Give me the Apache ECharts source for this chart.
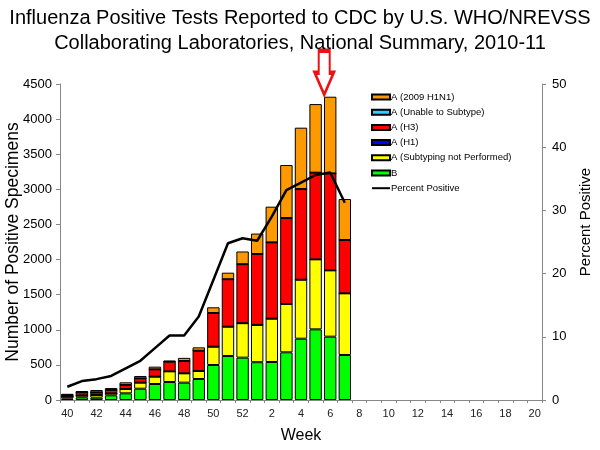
<!DOCTYPE html>
<html>
<head>
<meta charset="utf-8">
<script src="https://cdn.jsdelivr.net/npm/echarts@6/dist/echarts.min.js"></script>
<style>
html,body{margin:0;padding:0;background:#fff;}
#chart{width:600px;height:450px;}
</style>
</head>
<body>
<div id="chart"></div>
<script>
var weeks = ['40','41','42','43','44','45','46','47','48','49','50','51','52','1','2','3','4','5','6','7','8','9','10','11','12','13','14','15','16','17','18','19','20'];
var seriesB =        [20, 38, 33, 66, 95, 161, 228, 256, 247, 299, 498, 626, 603, 538, 541, 679, 873, 1006, 902, 641];
var seriesNotSub =   [27, 28, 38, 29, 62, 86, 104, 152, 133, 114, 261, 418, 491, 532, 617, 688, 840, 997, 944, 878];
var seriesH1 =       [0, 0, 0, 0, 0, 0, 0, 0, 0, 0, 0, 0, 0, 0, 0, 0, 0, 0, 0, 0];
var seriesH3 =       [23, 43, 38, 47, 57, 61, 105, 138, 175, 289, 480, 676, 840, 1009, 1087, 1224, 1291, 1234, 1381, 759];
var seriesUnable =   [0, 0, 0, 0, 0, 0, 0, 0, 0, 0, 0, 0, 0, 0, 0, 0, 0, 0, 0, 0];
var seriesH1N1 =     [18, 19, 33, 29, 38, 34, 38, 14, 45, 48, 81, 93, 181, 291, 508, 755, 874, 977, 1092, 584];
var percentPositive = [2.1, 3.0, 3.3, 3.8, 5.0, 6.2, 8.2, 10.2, 10.2, 13.2, 19.0, 24.8, 25.6, 25.2, 29.0, 33.2, 34.4, 35.6, 36.0, 31.2];
var leftTicks = {min: 0, max: 4500, interval: 500};
var rightTicks = {min: 0, max: 50, interval: 10};

var FONT = 'Liberation Sans, Arial, sans-serif';
var totals = seriesB.map(function(v, i){
  return v + seriesNotSub[i] + seriesH1[i] + seriesH3[i] + seriesUnable[i] + seriesH1N1[i];
});
var peak = 0;
totals.forEach(function(v, i){ if (v > totals[peak]) peak = i; });

function barSeries(name, data, color, extra){
  var s = {
    name: name, type: 'bar', stack: 'total', data: data,
    barCategoryGap: '15%',
    itemStyle: {color: color, borderColor: '#000', borderWidth: 1},
    emphasis: {disabled: true}
  };
  if (extra) for (var k in extra) s[k] = extra[k];
  return s;
}

var chart = echarts.init(document.getElementById('chart'), null, {renderer: 'canvas'});
chart.setOption({
  animation: false,
  textStyle: {fontFamily: FONT},
  title: {
    text: 'Influenza Positive Tests Reported to CDC by U.S. WHO/NREVSS\nCollaborating Laboratories, National Summary, 2010-11',
    left: 'center', top: 1,
    textStyle: {fontFamily: FONT, fontSize: 20, fontWeight: 'normal', color: '#000', lineHeight: 25}
  },
  legend: {
    orient: 'vertical', left: 366, top: 87,
    itemWidth: 18, itemHeight: 5, itemGap: 5.2,
    textStyle: {fontFamily: FONT, fontSize: 9.5, color: '#000', padding: [0, 0, 0, -4]},
    data: [
      {name: 'A (2009 H1N1)', icon: 'rect'},
      {name: 'A (Unable to Subtype)', icon: 'rect'},
      {name: 'A (H3)', icon: 'rect'},
      {name: 'A (H1)', icon: 'rect'},
      {name: 'A (Subtyping not Performed)', icon: 'rect'},
      {name: 'B', icon: 'rect'},
      {name: 'Percent Positive', itemStyle: {opacity: 0}}
    ]
  },
  grid: {left: 60, right: 58, top: 84, bottom: 50, outerBoundsMode: 'none', containLabel: false},
  xAxis: {
    type: 'category', data: weeks,
    name: 'Week', nameLocation: 'middle', nameGap: 28,
    nameTextStyle: {fontFamily: FONT, fontSize: 16, color: '#000'},
    axisLine: {lineStyle: {color: '#888', width: 1}},
    axisTick: {show: true, interval: 0, length: 3, lineStyle: {color: '#888'}},
    axisLabel: {interval: 1, fontSize: 11, color: '#222', margin: 8}
  },
  yAxis: [
    {
      type: 'value', min: leftTicks.min, max: leftTicks.max, interval: leftTicks.interval,
      name: 'Number of Positive Specimens', nameLocation: 'middle', nameGap: 38,
      nameMoveOverlap: false,
      nameTextStyle: {fontFamily: FONT, fontSize: 17.5, color: '#000'},
      axisLine: {show: true, lineStyle: {color: '#888', width: 1}},
      axisTick: {show: true, length: 4, lineStyle: {color: '#888'}},
      axisLabel: {fontSize: 13, color: '#000', margin: 8, formatter: function(v){ return String(v); }},
      splitLine: {show: false}
    },
    {
      type: 'value', min: rightTicks.min, max: rightTicks.max, interval: rightTicks.interval,
      name: 'Percent Positive', nameLocation: 'middle', nameGap: 36,
      nameTextStyle: {fontFamily: FONT, fontSize: 15, color: '#000', padding: [0, 0, 0, 40]},
      axisLine: {show: true, lineStyle: {color: '#888', width: 1}},
      axisTick: {show: true, length: 4, lineStyle: {color: '#888'}},
      axisLabel: {fontSize: 13, color: '#000', margin: 10},
      splitLine: {show: false}
    }
  ],
  series: [
    barSeries('B', seriesB, '#00FF00'),
    barSeries('A (Subtyping not Performed)', seriesNotSub, '#FFFF00'),
    barSeries('A (H1)', seriesH1, '#0000FF'),
    barSeries('A (H3)', seriesH3, '#FF0000'),
    barSeries('A (Unable to Subtype)', seriesUnable, '#33CCFF'),
    barSeries('A (2009 H1N1)', seriesH1N1, '#FF9900', {
      markPoint: {
        silent: true,
        symbol: 'path://M4 0 L15 0 L15 22 L19 22 L9.5 44 L0 22 L4 22 Z',
        symbolSize: [19, 44],
        symbolOffset: [-6, -24],
        itemStyle: {color: '#fff', borderColor: '#EE1111', borderWidth: 3},
        label: {show: false},
        data: [{coord: [weeks[peak], totals[peak]]}]
      }
    }),
    {
      name: 'Percent Positive', type: 'line', yAxisIndex: 1, data: percentPositive,
      symbol: 'none', smooth: false, z: 5,
      lineStyle: {color: '#000', width: 2.5},
      itemStyle: {color: '#000'},
      emphasis: {disabled: true}
    }
  ]
});
</script>
</body>
</html>
